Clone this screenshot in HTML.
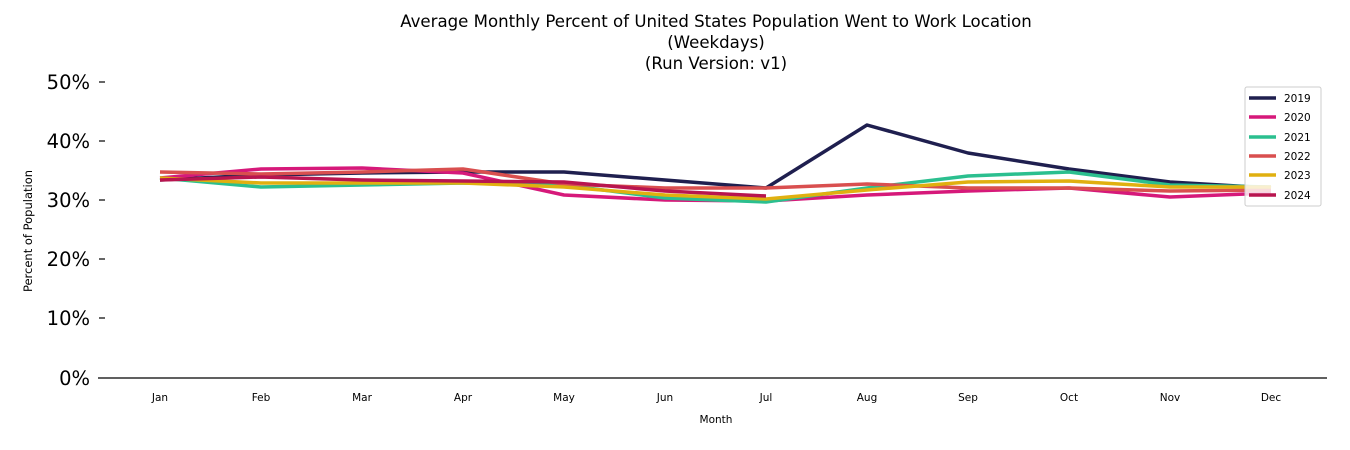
<!DOCTYPE html>
<html><head><meta charset="utf-8"><style>body{margin:0;background:#fff}svg{display:block}text{font-family:"DejaVu Sans","Liberation Sans",sans-serif;fill:#000}</style></head><body>
<svg width="1350" height="450" viewBox="0 0 1350 450">
<text x="716" y="27" font-size="16.6" text-anchor="middle">Average Monthly Percent of United States Population Went to Work Location</text>
<text x="716" y="48" font-size="16.6" text-anchor="middle">(Weekdays)</text>
<text x="716" y="69" font-size="16.6" text-anchor="middle">(Run Version: v1)</text>
<g font-size="19.5" text-anchor="end">
<text x="90" y="89">50%</text><text x="90" y="148">40%</text><text x="90" y="207">30%</text><text x="90" y="266">20%</text><text x="90" y="325">10%</text><text x="90" y="385">0%</text>
</g>
<g stroke="#000" stroke-width="1.2">
<line x1="99" y1="82" x2="105" y2="82"/><line x1="99" y1="141" x2="105" y2="141"/><line x1="99" y1="200" x2="105" y2="200"/><line x1="99" y1="259" x2="105" y2="259"/><line x1="99" y1="318" x2="105" y2="318"/>
<line x1="98" y1="378" x2="1327" y2="378"/>
</g>
<text transform="translate(32,231) rotate(-90)" font-size="11.5" text-anchor="middle">Percent of Population</text>
<g font-size="10.5" text-anchor="middle">
<text x="160" y="401">Jan</text><text x="261" y="401">Feb</text><text x="362" y="401">Mar</text><text x="463" y="401">Apr</text><text x="564" y="401">May</text><text x="665" y="401">Jun</text><text x="766" y="401">Jul</text><text x="867" y="401">Aug</text><text x="968" y="401">Sep</text><text x="1069" y="401">Oct</text><text x="1170" y="401">Nov</text><text x="1271" y="401">Dec</text>
<text x="716" y="423">Month</text>
</g>
<g fill="none" stroke-width="3.5" stroke-linejoin="round">
<polyline stroke="#1f1f4f" points="160,180 261,175 362,173 463,172 564,172 665,180 766,188 867,125 968,153 1069,169 1170,182 1271,188"/>
<polyline stroke="#d6197a" points="160,178 261,169 362,168 463,173 564,195 665,200 766,201 867,195 968,191 1069,188 1170,197 1271,193"/>
<polyline stroke="#2bbf8f" points="160,178 261,187 362,185 463,183 564,185 665,198 766,202 867,188 968,176 1069,172 1170,185 1271,187"/>
<polyline stroke="#d94f4f" points="160,172 261,174 362,172 463,169 564,184 665,188 766,188 867,184 968,188 1069,188 1170,191 1271,190"/>
<polyline stroke="#e0b010" points="160,178 261,183 362,183 463,183 564,187 665,195 766,199 867,190 968,182 1069,181 1170,187 1271,187"/>
<polyline stroke="#b8154f" points="160,180 261,177 362,180 463,181 564,182 665,191 766,196"/>
</g>
<rect x="1245" y="87" width="76" height="119" rx="2" fill="#fff" fill-opacity="0.8" stroke="#ccc"/>
<g stroke-width="3.5">
<line x1="1249" y1="98" x2="1276" y2="98" stroke="#1f1f4f"/>
<line x1="1249" y1="117" x2="1276" y2="117" stroke="#d6197a"/>
<line x1="1249" y1="137" x2="1276" y2="137" stroke="#2bbf8f"/>
<line x1="1249" y1="156" x2="1276" y2="156" stroke="#d94f4f"/>
<line x1="1249" y1="175" x2="1276" y2="175" stroke="#e0b010"/>
<line x1="1249" y1="195" x2="1276" y2="195" stroke="#b8154f"/>
</g>
<g font-size="10.5">
<text x="1284" y="102">2019</text><text x="1284" y="121">2020</text><text x="1284" y="141">2021</text><text x="1284" y="160">2022</text><text x="1284" y="179">2023</text><text x="1284" y="199">2024</text>
</g>
</svg>
</body></html>
